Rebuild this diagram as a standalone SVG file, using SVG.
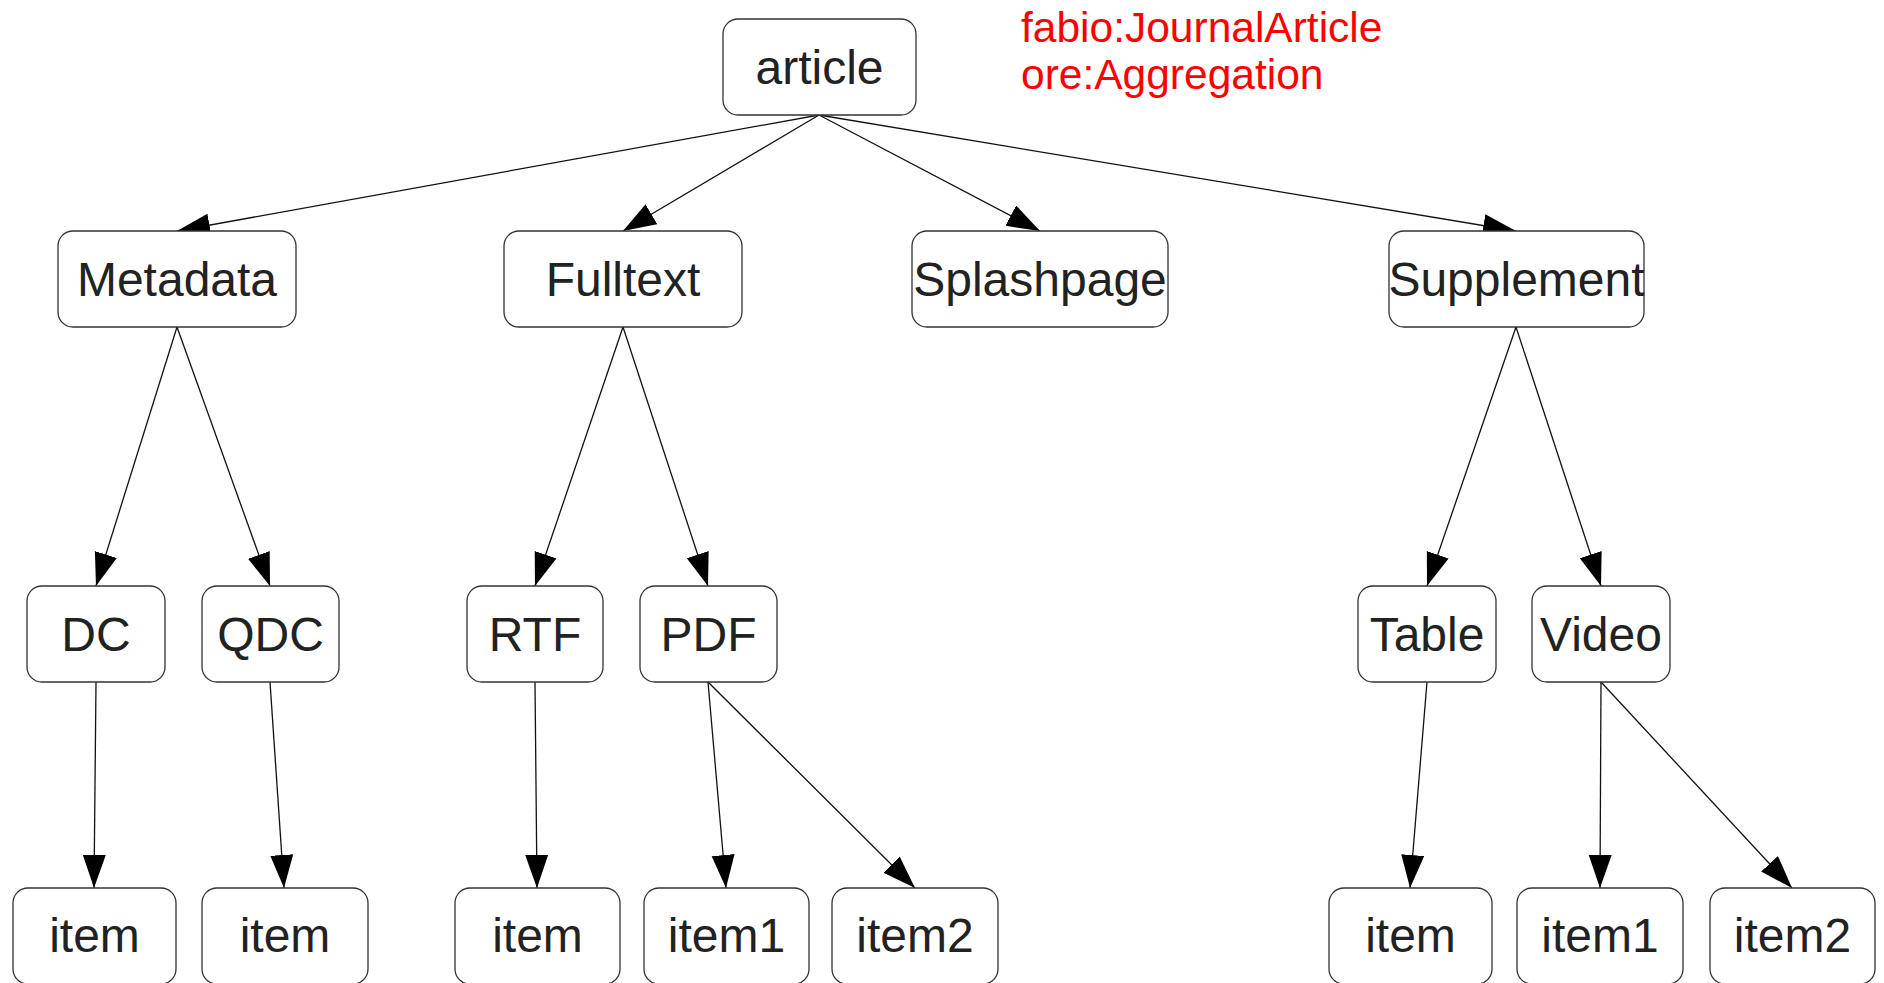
<svg xmlns="http://www.w3.org/2000/svg" width="1884" height="983" viewBox="0 0 1884 983">
<defs>
<style>
.box{fill:#fff;stroke:#333;stroke-width:1.3}
.lbl{font-family:"Liberation Sans",Arial,sans-serif;font-size:48px;fill:#222;text-anchor:middle}
.note{font-family:"Liberation Sans",Arial,sans-serif;font-size:42.5px;fill:#ff0000}
.edge{stroke:#111;stroke-width:1.3;fill:none;marker-end:url(#arr)}
</style>
<marker id="arr" markerUnits="userSpaceOnUse" markerWidth="36" markerHeight="26" refX="33" refY="11.5" orient="auto">
<path d="M0,0 L33,11.5 L0,23 z" fill="#000"/>
</marker>
</defs>
<rect width="1884" height="983" fill="#fff"/>
<g id="connectors">
<line class="edge" x1="819" y1="115" x2="177" y2="231"/>
<line class="edge" x1="819" y1="115" x2="623" y2="231"/>
<line class="edge" x1="819" y1="115" x2="1040" y2="231"/>
<line class="edge" x1="819" y1="115" x2="1516" y2="231"/>
<line class="edge" x1="177" y1="327" x2="96" y2="586"/>
<line class="edge" x1="177" y1="327" x2="270" y2="586"/>
<line class="edge" x1="623" y1="327" x2="535" y2="586"/>
<line class="edge" x1="623" y1="327" x2="708" y2="586"/>
<line class="edge" x1="1516" y1="327" x2="1427" y2="586"/>
<line class="edge" x1="1516" y1="327" x2="1601" y2="586"/>
<line class="edge" x1="96" y1="682" x2="94" y2="888"/>
<line class="edge" x1="270" y1="682" x2="284" y2="888"/>
<line class="edge" x1="535" y1="682" x2="537" y2="888"/>
<line class="edge" x1="708" y1="682" x2="726" y2="888"/>
<line class="edge" x1="708" y1="682" x2="915" y2="888"/>
<line class="edge" x1="1427" y1="682" x2="1410" y2="888"/>
<line class="edge" x1="1601" y1="682" x2="1600" y2="888"/>
<line class="edge" x1="1601" y1="682" x2="1792" y2="888"/>
</g>
<g id="article"><rect class="box" x="723" y="19" width="193" height="96" rx="15"/><text class="lbl" x="819.5" y="84">article</text></g>
<g id="note"><text class="note" x="1021" y="42">fabio:JournalArticle</text><text class="note" x="1021" y="89">ore:Aggregation</text></g>
<g id="metadata"><rect class="box" x="58" y="231" width="238" height="96" rx="15"/><text class="lbl" x="177" y="296">Metadata</text></g>
<g id="fulltext"><rect class="box" x="504" y="231" width="238" height="96" rx="15"/><text class="lbl" x="623" y="296">Fulltext</text></g>
<g id="splashpage"><rect class="box" x="912" y="231" width="256" height="96" rx="15"/><text class="lbl" x="1040" y="296">Splashpage</text></g>
<g id="supplement"><rect class="box" x="1389" y="231" width="255" height="96" rx="15"/><text class="lbl" x="1516.5" y="296">Supplement</text></g>
<g id="dc"><rect class="box" x="27" y="586" width="138" height="96" rx="15"/><text class="lbl" x="96" y="651">DC</text></g>
<g id="qdc"><rect class="box" x="202" y="586" width="137" height="96" rx="15"/><text class="lbl" x="270.5" y="651">QDC</text></g>
<g id="rtf"><rect class="box" x="467" y="586" width="136" height="96" rx="15"/><text class="lbl" x="535" y="651">RTF</text></g>
<g id="pdf"><rect class="box" x="640" y="586" width="137" height="96" rx="15"/><text class="lbl" x="708.5" y="651">PDF</text></g>
<g id="table"><rect class="box" x="1358" y="586" width="138" height="96" rx="15"/><text class="lbl" x="1427" y="651">Table</text></g>
<g id="video"><rect class="box" x="1532" y="586" width="138" height="96" rx="15"/><text class="lbl" x="1601" y="651">Video</text></g>
<g id="dc-item"><rect class="box" x="13" y="888" width="163" height="96" rx="15"/><text class="lbl" x="94.5" y="952">item</text></g>
<g id="qdc-item"><rect class="box" x="202" y="888" width="166" height="96" rx="15"/><text class="lbl" x="285" y="952">item</text></g>
<g id="rtf-item"><rect class="box" x="455" y="888" width="165" height="96" rx="15"/><text class="lbl" x="537.5" y="952">item</text></g>
<g id="pdf-item1"><rect class="box" x="644" y="888" width="165" height="96" rx="15"/><text class="lbl" x="726.5" y="952">item1</text></g>
<g id="pdf-item2"><rect class="box" x="832" y="888" width="166" height="96" rx="15"/><text class="lbl" x="915" y="952">item2</text></g>
<g id="table-item"><rect class="box" x="1329" y="888" width="163" height="96" rx="15"/><text class="lbl" x="1410.5" y="952">item</text></g>
<g id="video-item1"><rect class="box" x="1517" y="888" width="166" height="96" rx="15"/><text class="lbl" x="1600" y="952">item1</text></g>
<g id="video-item2"><rect class="box" x="1710" y="888" width="165" height="96" rx="15"/><text class="lbl" x="1792.5" y="952">item2</text></g>
</svg>
